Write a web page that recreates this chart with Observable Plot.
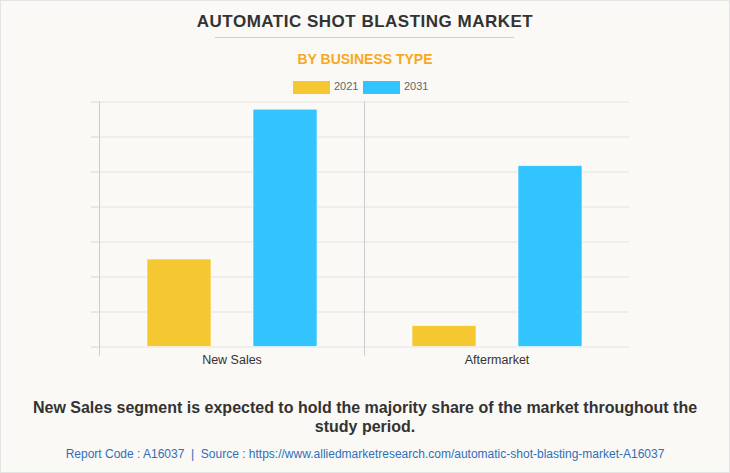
<!DOCTYPE html>
<html>
<head>
<meta charset="utf-8">
<script src="https://cdn.jsdelivr.net/npm/d3@7"></script>
<script src="https://cdn.jsdelivr.net/npm/@observablehq/plot@0.6"></script>
<style>
  html, body { margin: 0; padding: 0; background: #faf9f5; }
  #wrap { position: relative; width: 730px; height: 473px; background: #faf9f5; font-family: "Liberation Sans", Arial, sans-serif; overflow: hidden; }
  #border { position: absolute; left: 0; top: 0; width: 730px; height: 473px; box-sizing: border-box; border: 1px solid #e4e4e4; pointer-events: none; }
  .abs { position: absolute; white-space: nowrap; }
  #title { left: 0; width: 730px; top: 12.5px; text-align: center; font-size: 17px; line-height: 17px; font-weight: bold; color: #333; letter-spacing: 0.5px; }
  #rule { left: 215px; top: 37px; width: 299px; height: 1px; background: #cfcfcf; }
  #subtitle { left: 0; width: 730px; top: 52px; text-align: center; font-size: 14px; line-height: 14px; font-weight: bold; color: #f7a823; }
  .sw { position: absolute; top: 81px; width: 37px; height: 13px; }
  .lt { position: absolute; top: 81px; font-size: 11px; line-height: 11px; color: #666; }
  #chart { position: absolute; left: 0; top: 90px; }
  #note { left: 15px; width: 700px; top: 398px; text-align: center; font-size: 16px; line-height: 19px; font-weight: bold; color: #333; white-space: normal; }
  #source { left: 0; width: 730px; top: 448px; text-align: center; font-size: 12px; line-height: 12px; color: #2f6fba; }
</style>
</head>
<body>
<div id="wrap">
  <div id="title" class="abs">AUTOMATIC SHOT BLASTING MARKET</div>
  <div id="rule" class="abs"></div>
  <div id="subtitle" class="abs">BY BUSINESS TYPE</div>
  <div id="legend"></div>
  <div id="chart"></div>
  <div id="note" class="abs">New Sales segment is expected to hold the majority share of the market throughout the study period.</div>
  <div id="source" class="abs">Report Code : A16037&nbsp; |&nbsp; Source : https://www.alliedmarketresearch.com/automatic-shot-blasting-market-A16037</div>
  <div id="border"></div>
</div>
<script>
// Categories and series (in gridline units)
const businessTypes = ["New Sales", "Aftermarket"];
const years = ["2021", "2031"];
const values2021 = [2.50, 0.60];
const values2031 = [6.78, 5.17];
const yTicks = [0, 1, 2, 3, 4, 5, 6, 7];
const seriesColors = ["#f5c730", "#31c4ff"];

const data = [];
businessTypes.forEach((t, i) => {
  data.push({type: t, year: years[0], value: values2021[i]});
  data.push({type: t, year: years[1], value: values2031[i]});
});

// Legend (HTML, above the SVG)
const legend = document.getElementById("legend");
const legendX = [[293, 334], [363, 404]];
years.forEach((y, i) => {
  const sw = document.createElement("div");
  sw.className = "sw";
  sw.style.left = legendX[i][0] + "px";
  sw.style.background = seriesColors[i];
  legend.appendChild(sw);
  const lt = document.createElement("div");
  lt.className = "lt";
  lt.style.left = legendX[i][1] + "px";
  lt.textContent = y;
  legend.appendChild(lt);
});

const chart = Plot.plot({
  width: 730,
  height: 280,
  marginTop: 11.5,
  marginBottom: 23.5,
  marginLeft: 98,
  marginRight: 101,
  style: {background: "transparent", fontFamily: "'Liberation Sans', Arial, sans-serif", fontSize: "12px", color: "#333"},
  fx: {domain: businessTypes, padding: 0, label: null},
  x: {domain: years, paddingInner: 0.4, paddingOuter: 0.45, axis: null},
  y: {domain: [0, 7], axis: null},
  color: {domain: years, range: seriesColors},
  marks: [
    Plot.gridY(yTicks, {stroke: "#e3e3e3", strokeOpacity: 1}),
    Plot.axisY(yTicks, {tickSize: 8, tickFormat: () => "", stroke: "#d6d6d6", label: null}),
    Plot.frame({anchor: "left", stroke: "#cccccc", insetBottom: -8}),
    Plot.barY(data, {fx: "type", x: "year", y: "value", fill: "year", stroke: "#ffffff", strokeWidth: 1, strokeOpacity: 0.6}),
    Plot.axisFx({anchor: "bottom", tickSize: 0, tickPadding: 8.5, label: null, fill: "#333", fontSize: 12.5})
  ]
});
document.getElementById("chart").appendChild(chart);
</script>
</body>
</html>
